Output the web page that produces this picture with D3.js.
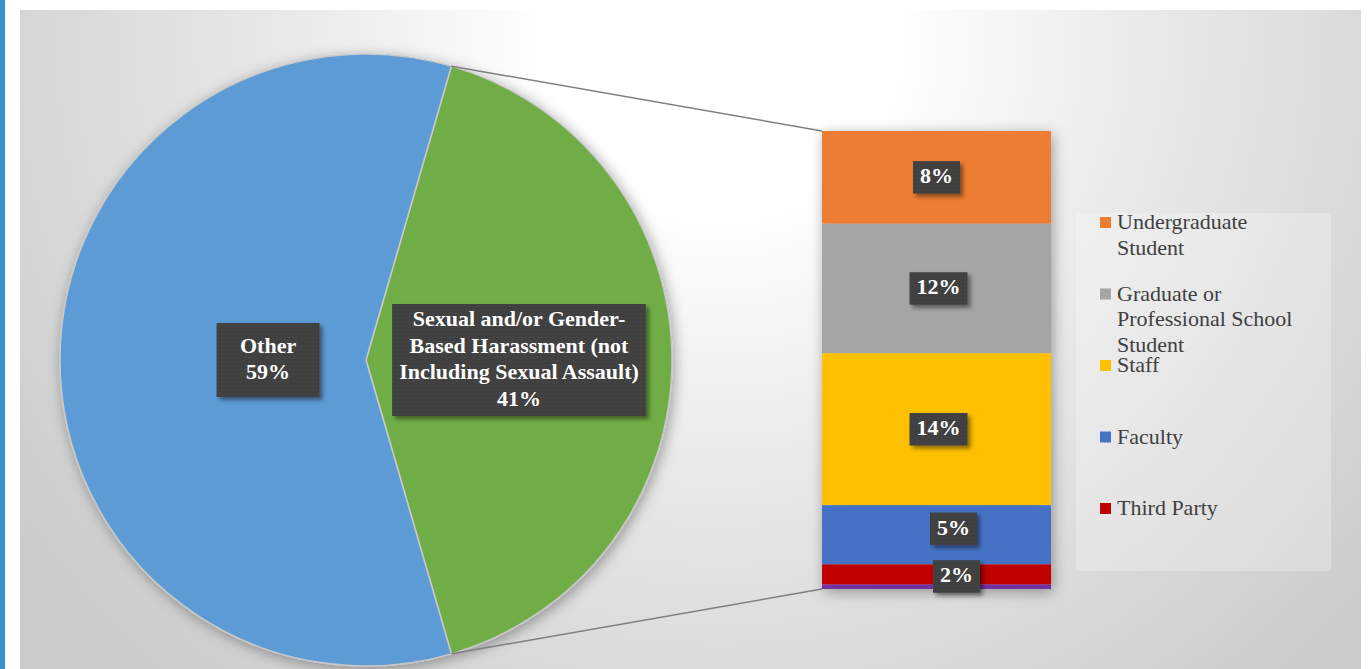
<!DOCTYPE html>
<html>
<head>
<meta charset="utf-8">
<script src="https://cdn.jsdelivr.net/npm/d3@7"></script>
<style>
  html, body { margin: 0; padding: 0; background: #fff; }
  svg { display: block; }
</style>
</head>
<body>
<div id="chart"></div>
<script>
// pie data
const pieNames = ['Sexual and/or Gender-Based Harassment (not Including Sexual Assault)', 'Other'];
const pieValues = [41, 59];
const pieColors = ['#70ad47', '#5b9bd5'];

// breakdown of the split slice (bar), top to bottom
const barNames = ['Undergraduate Student', 'Graduate or Professional School Student', 'Staff', 'Faculty', 'Third Party', 'Unspecified'];
const barValues = [8.3, 11.6, 13.6, 5.3, 1.8, 0.4];
const barColors = ['#ed7d31', '#a5a5a5', '#ffc000', '#4472c4', '#c00000', '#7030a0'];
const legendCount = 5;

const width = 1371, height = 669;
const fmt = d => Math.round(d) + '%';
const serif = '"Liberation Serif", "Times New Roman", serif';

const svg = d3.select('#chart').append('svg')
    .attr('width', width)
    .attr('height', height);

const defs = svg.append('defs');

const bg = defs.append('radialGradient')
    .attr('id', 'bg')
    .attr('gradientUnits', 'userSpaceOnUse')
    .attr('cx', 720).attr('cy', 40).attr('r', 860);
[[0, '#ffffff'], [0.2, '#ffffff'], [0.5, '#e9e9e9'], [1, '#cbcbcb']].forEach(s => {
    bg.append('stop').attr('offset', s[0]).attr('stop-color', s[1]);
});

const softShadow = defs.append('filter').attr('id', 'soft')
    .attr('x', '-20%').attr('y', '-20%').attr('width', '140%').attr('height', '140%');
softShadow.append('feDropShadow')
    .attr('dx', 2).attr('dy', 3).attr('stdDeviation', 7)
    .attr('flood-color', '#000').attr('flood-opacity', 0.35);

const boxShadow = defs.append('filter').attr('id', 'boxShadow')
    .attr('x', '-20%').attr('y', '-20%').attr('width', '150%').attr('height', '150%');
boxShadow.append('feDropShadow')
    .attr('dx', 3).attr('dy', 3).attr('stdDeviation', 2)
    .attr('flood-color', '#000').attr('flood-opacity', 0.45);

const dots = defs.append('pattern')
    .attr('id', 'dots')
    .attr('patternUnits', 'userSpaceOnUse')
    .attr('width', 4).attr('height', 4);
dots.append('rect').attr('width', 4).attr('height', 4).attr('fill', '#3f3f3f');
dots.append('rect').attr('x', 1).attr('y', 1).attr('width', 1).attr('height', 1).attr('fill', '#4e4e4e');

// page frame
svg.append('rect').attr('x', 0).attr('y', 0).attr('width', 5).attr('height', height).attr('fill', '#3a8fc8');
svg.append('rect').attr('x', 20).attr('y', 10).attr('width', 1341).attr('height', height - 10).attr('fill', 'url(#bg)');

// pie
const cx = 366, cy = 360, r = 306;
const splitShare = pieValues[0] / d3.sum(pieValues);
const start = Math.PI / 2 - splitShare * Math.PI;

const pie = d3.pie().sort(null).value(d => d)
    .startAngle(start).endAngle(start + 2 * Math.PI);
const arcs = pie(pieValues);
const arc = d3.arc().innerRadius(0).outerRadius(r);

const pieG = svg.append('g').attr('transform', `translate(${cx},${cy})`);
pieG.append('g').attr('filter', 'url(#soft)')
    .selectAll('path')
    .data(arcs)
    .join('path')
    .attr('d', arc)
    .attr('fill', (d, i) => pieColors[i])
    .attr('stroke', '#c8c8c8')
    .attr('stroke-width', 1.5);

// bar of the split slice
const bx0 = 822, bx1 = 1051;
const y = d3.scaleLinear().domain([0, d3.sum(barValues)]).range([131, 589]);
const stack = [];
let acc = 0;
barValues.forEach((v, i) => { stack.push({ i, v, y0: acc, y1: acc + v }); acc += v; });

// leader lines
const a0 = arcs[0].startAngle, a1 = arcs[0].endAngle;
const leader = [
    [cx + r * Math.sin(a0), cy - r * Math.cos(a0), bx0, y(0)],
    [cx + r * Math.sin(a1), cy - r * Math.cos(a1), bx0, y(acc)]
];
svg.append('g').selectAll('line')
    .data(leader)
    .join('line')
    .attr('x1', d => d[0]).attr('y1', d => d[1])
    .attr('x2', d => d[2]).attr('y2', d => d[3])
    .attr('stroke', '#7f7f7f')
    .attr('stroke-width', 1.5);

svg.append('g').attr('filter', 'url(#soft)')
    .selectAll('rect')
    .data(stack)
    .join('rect')
    .attr('x', bx0)
    .attr('width', bx1 - bx0)
    .attr('y', d => y(d.y0))
    .attr('height', d => y(d.y1) - y(d.y0))
    .attr('fill', d => barColors[d.i]);

// data label boxes
const lineH = 26.5;
function labelBox(g, lines, x, yc, minW, minH) {
    const grp = g.append('g');
    const rect = grp.append('rect').attr('fill', 'url(#dots)').attr('filter', 'url(#boxShadow)');
    const txt = grp.append('text')
        .attr('text-anchor', 'middle')
        .attr('font-family', serif)
        .attr('font-weight', 'bold')
        .attr('font-size', 22)
        .attr('fill', '#ffffff');
    const top = yc - (lines.length * lineH) / 2;
    lines.forEach((l, k) => {
        txt.append('tspan').attr('x', x).attr('y', top + lineH * k + lineH * 0.72).text(l);
    });
    const w = Math.max(txt.node().getBBox().width + 14, minW || 0);
    const h = Math.max(lines.length * lineH + 6, minH || 0);
    rect.attr('x', x - w / 2).attr('y', yc - h / 2).attr('width', w).attr('height', h);
}

const labelG = svg.append('g');

// pie labels
const gc = arc.centroid(arcs[0]);
labelBox(labelG, ['Sexual and/or Gender-', 'Based Harassment (not', 'Including Sexual Assault)', fmt(pieValues[0])],
    cx + gc[0], cy + gc[1], 0, 110);
const otherArc = d3.arc().innerRadius(0).outerRadius(r * 0.64);
const oc = otherArc.centroid(arcs[1]);
labelBox(labelG, ['Other', fmt(pieValues[1])], cx + oc[0], cy + oc[1], 103, 74);

// bar labels (small segments nudged right so they don't collide)
const nudge = [0, 2, 2, 17, 20];
stack.slice(0, legendCount).forEach((d, k) => {
    const yc = (y(d.y0) + y(d.y1)) / 2 + (k === 3 ? -6 : k === 4 ? 2 : 0);
    labelBox(labelG, [fmt(d.v)], (bx0 + bx1) / 2 + nudge[k], yc, 0, 32);
});

// legend
svg.append('rect')
    .attr('x', 1076).attr('y', 213)
    .attr('width', 255).attr('height', 358)
    .attr('fill', '#ffffff').attr('fill-opacity', 0.25);

const legH = 25.5;
const ly = d3.scalePoint().domain(barNames.slice(0, legendCount)).range([222, 508]);
const legend = svg.append('g').selectAll('g')
    .data(barNames.slice(0, legendCount))
    .join('g')
    .attr('transform', d => `translate(1100,${ly(d)})`);

legend.append('rect')
    .attr('x', 0).attr('y', -5)
    .attr('width', 11).attr('height', 11)
    .attr('fill', (d, i) => barColors[i]);

legend.append('text')
    .attr('font-family', serif)
    .attr('font-size', 22)
    .attr('fill', '#404040')
    .each(function(d) {
        const t = d3.select(this);
        const words = d.split(' ');
        let line = [], k = 0;
        let span = t.append('tspan').attr('x', 17).attr('y', 7);
        words.forEach(w => {
            line.push(w);
            span.text(line.join(' '));
            if (span.node().getComputedTextLength() > 195 && line.length > 1) {
                line.pop();
                span.text(line.join(' '));
                line = [w];
                k++;
                span = t.append('tspan').attr('x', 17).attr('y', 7 + k * legH).text(w);
            }
        });
    });
</script>
</body>
</html>
